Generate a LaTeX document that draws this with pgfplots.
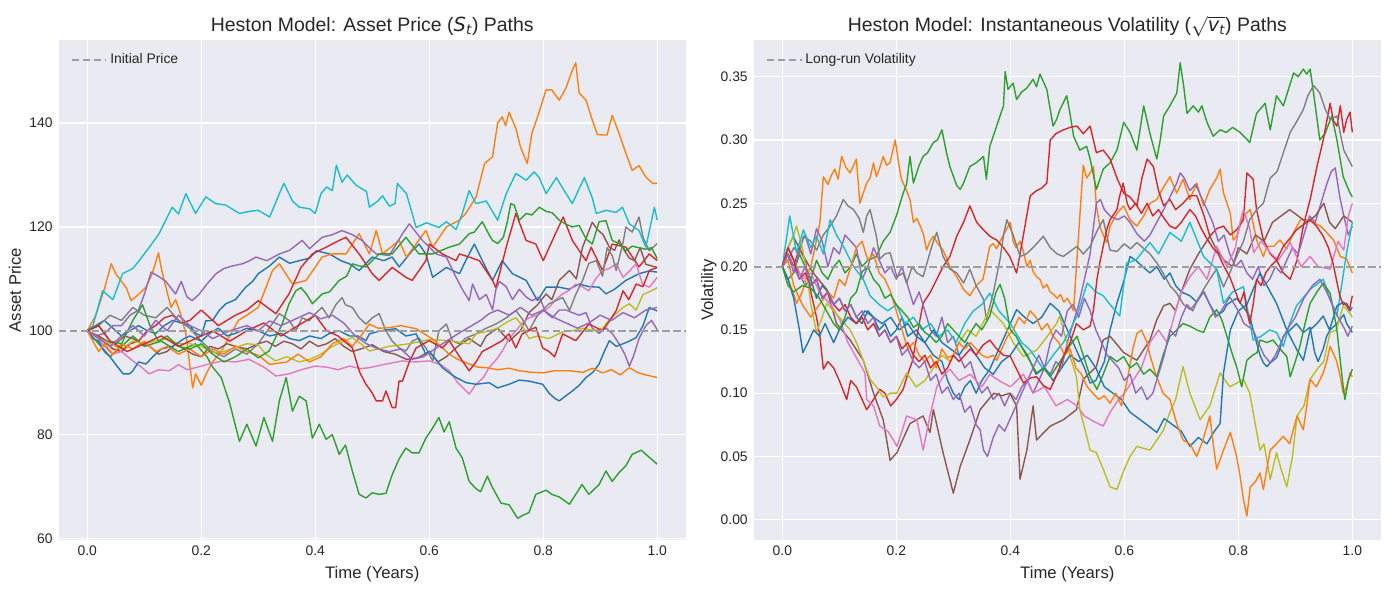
\documentclass[border=0pt]{standalone}
\usepackage{fontspec}
\setmainfont{Liberation Sans}
\newfontfamily\dejavu{DejaVu Sans}
\usepackage{pgfplots}
\pgfplotsset{compat=1.18}

\definecolor{bgc}{HTML}{EAEAF2}
\definecolor{labc}{HTML}{262626}
\definecolor{refgray}{HTML}{9E9E9F}
\definecolor{tBlue}{HTML}{1F77B4}
\definecolor{tOrange}{HTML}{FF7F0E}
\definecolor{tGreen}{HTML}{2CA02C}
\definecolor{tRed}{HTML}{D62728}
\definecolor{tPurple}{HTML}{9467BD}
\definecolor{tBrown}{HTML}{8C564B}
\definecolor{tPink}{HTML}{E377C2}
\definecolor{tGray}{HTML}{7F7F7F}
\definecolor{tOlive}{HTML}{BCBD22}
\definecolor{tCyan}{HTML}{17BECF}

\pgfplotsset{
  heston/.style={
    scale only axis, width=451.4pt, height=360pt, anchor=south west,
    xmin=-0.05, xmax=1.05,
    axis background/.style={fill=bgc},
    axis line style={draw=none},
    tick style={draw=none},
    grid=major, major grid style={white, line width=0.9pt},
    xtick={0,0.2,0.4,0.6,0.8,1.0},
    /pgf/number format/assume math mode=true,
    ticklabel style={font=\fontsize{10}{12}\selectfont, text=labc},
    yticklabel style={anchor=east, inner sep=0pt, xshift=-4.2pt},
    every axis title/.style={at={(axis description cs:0.5,1)}, anchor=base, yshift=6pt,
      font=\fontsize{14}{16}\selectfont, text=labc},
    every axis x label/.style={at={(axis description cs:0.5,-0.0761)}, anchor=base,
      font=\fontsize{12}{14}\selectfont, text=labc},
    legend style={at={(axis description cs:0.012,0.984)}, anchor=north west, draw=none,
      fill=none, font=\fontsize{10}{12}\selectfont, text=labc},
    legend image code/.code={\draw[##1] (0pt,0pt) -- (21pt,0pt); \path (0pt,0pt) -- (25pt,0pt);},
    xlabel={Time (Years)},
    xticklabel style={anchor=base, yshift=-11.2pt, /pgf/number format/.cd, fixed, fixed zerofill, precision=1},
  },
  path/.style={line width=1pt, line join=round, forget plot},
  refline/.style={color=refgray, dash pattern=on 5.5pt off 2.4pt, line width=1.5pt},
}

\begin{document}
\begin{tikzpicture}
\useasboundingbox (0,0) rectangle (1000pt,424.8pt);

% ---------------- asset price paths ----------------
\begin{axis}[heston, at={(42.3pt,36pt)},
  ymin=59.7, ymax=156, ytick={60,80,100,120,140},
  title={Heston Model: Asset Price ({\dejavu\itshape S}\textsubscript{\dejavu\itshape t}) Paths},
  every axis y label/.style={at={(axis description cs:-0.0603,0.5)}, rotate=90, anchor=base,
    font=\fontsize{12}{14}\selectfont, text=labc},
  ylabel={Asset Price}]

% blue
\addplot[path, tBlue] coordinates {(0,100)(0.015,101)(0.03,102)(0.045,100.5)(0.06,99)(0.075,100)(0.09,101)(0.105,100)(0.12,99.5)(0.135,101)(0.15,102)(0.165,101.5)(0.18,101)(0.19,99.5)(0.2,99)(0.208,101.9)(0.22,102)(0.232,104)(0.243,105.2)(0.26,106)(0.278,108.4)(0.29,109.5)(0.3,111)(0.32,112.5)(0.337,114.2)(0.355,113)(0.372,113.5)(0.39,114)(0.402,115.4)(0.425,114.8)(0.445,113.5)(0.46,112.9)(0.477,111.6)(0.5,114.2)(0.52,113.5)(0.535,114.2)(0.547,112.3)(0.57,115.4)(0.582,116.7)(0.594,114.8)(0.606,110.3)(0.63,112.2)(0.653,111)(0.664,113.5)(0.679,116.7)(0.699,112.2)(0.711,109.7)(0.728,113.5)(0.746,111)(0.77,109.7)(0.79,105.8)(0.805,108.4)(0.828,108.4)(0.845,108)(0.863,109)(0.88,108.5)(0.898,108.4)(0.91,107.1)(0.925,108)(0.945,109.7)(0.968,111)(0.985,111.5)(1.0,111.3)};
% orange
\addplot[path, tOrange] coordinates {(0,100)(0.015,103)(0.03,108)(0.042,112.9)(0.05,111)(0.06,109.5)(0.068,108.4)(0.077,105.8)(0.09,107)(0.103,108.4)(0.114,111)(0.125,115)(0.13,112)(0.138,108.4)(0.147,104.5)(0.155,106)(0.164,103.2)(0.173,99.4)(0.179,94.2)(0.185,89)(0.19,91.7)(0.2,89.5)(0.21,92)(0.22,94)(0.235,96)(0.25,99)(0.265,102)(0.28,103)(0.3,104.5)(0.325,111.6)(0.337,112.9)(0.36,109)(0.384,109.7)(0.412,114.2)(0.43,114.8)(0.454,114.8)(0.477,118.7)(0.495,114.8)(0.507,119.3)(0.518,114.8)(0.547,117.4)(0.56,114.2)(0.594,119.3)(0.606,116.1)(0.63,120)(0.653,121.3)(0.664,122.6)(0.682,125.7)(0.697,132.2)(0.711,133.5)(0.72,140)(0.728,141.2)(0.734,139.5)(0.74,142.1)(0.752,139)(0.76,135.4)(0.772,132.2)(0.78,138)(0.79,141.2)(0.805,146.4)(0.815,146.4)(0.828,144.4)(0.84,146.8)(0.851,150.2)(0.857,151.6)(0.863,145.8)(0.875,144.4)(0.886,140.6)(0.895,137.8)(0.904,137.7)(0.912,137.7)(0.921,141.5)(0.933,138)(0.945,134.2)(0.956,130.9)(0.968,131.8)(0.98,129.6)(0.992,128.4)(1.0,128.4)};
% green
\addplot[path, tGreen] coordinates {(0,100)(0.02,97.5)(0.04,95)(0.06,97)(0.08,99)(0.1,97)(0.13,98)(0.16,96)(0.19,97.5)(0.21,95)(0.22,93)(0.235,91)(0.25,86)(0.267,78.7)(0.28,82)(0.296,77.8)(0.31,83.3)(0.325,78.7)(0.337,86.5)(0.349,91)(0.36,84.5)(0.372,87.4)(0.384,86.5)(0.395,79.3)(0.407,82)(0.419,79.1)(0.43,80)(0.442,76.2)(0.453,78)(0.465,73)(0.477,68.5)(0.489,67.8)(0.5,68.8)(0.512,68.5)(0.524,68.7)(0.535,72.3)(0.547,75.3)(0.559,77.4)(0.57,76.5)(0.582,76.5)(0.594,79.3)(0.606,81.3)(0.617,83.3)(0.626,80.5)(0.635,82.5)(0.647,77.4)(0.658,75.5)(0.67,71)(0.682,69.6)(0.69,69)(0.702,72)(0.71,70)(0.726,66.8)(0.74,66.5)(0.755,63.9)(0.765,64.5)(0.775,65)(0.787,68.5)(0.805,69.3)(0.815,68.5)(0.828,68)(0.846,66.6)(0.857,68.5)(0.868,70.4)(0.88,68.5)(0.898,70.4)(0.91,73)(0.921,71)(0.933,72.7)(0.945,74)(0.956,76.2)(0.972,77)(0.98,76.2)(1.0,74.3)};
% red
\addplot[path, tRed] coordinates {(0,100)(0.015,99)(0.03,98)(0.045,96.5)(0.06,96)(0.075,97.5)(0.09,98)(0.105,100)(0.12,101)(0.135,102.5)(0.15,103)(0.165,101.5)(0.18,102)(0.2,104)(0.215,102.5)(0.23,101)(0.245,102)(0.26,103)(0.28,104)(0.3,105.8)(0.331,103.3)(0.354,107.1)(0.375,112.2)(0.395,114.8)(0.419,116.1)(0.442,117.4)(0.454,118)(0.477,114.8)(0.5,111)(0.512,109.7)(0.535,112.2)(0.559,110.3)(0.57,109.7)(0.594,113.5)(0.6,116.7)(0.623,114.8)(0.647,113.5)(0.653,114.8)(0.67,114.2)(0.688,113.5)(0.711,109.7)(0.717,108.3)(0.735,116.1)(0.752,122.6)(0.77,117.4)(0.787,116.7)(0.8,113.5)(0.816,117.4)(0.835,121.9)(0.851,117.4)(0.875,113.5)(0.884,116.1)(0.904,111.6)(0.921,116.7)(0.945,116.1)(0.968,112.3)(0.986,114.8)(1.0,113.5)};
% purple
\addplot[path, tPurple] coordinates {(0,100)(0.015,99)(0.03,99.5)(0.045,101)(0.06,101)(0.075,103)(0.09,104)(0.1,107)(0.112,111.3)(0.125,110.5)(0.138,109.5)(0.155,107.1)(0.165,109.5)(0.175,106.5)(0.184,105.8)(0.196,107)(0.21,109)(0.226,111)(0.24,112)(0.255,112.5)(0.272,112.9)(0.285,113.5)(0.296,114.2)(0.315,113.5)(0.337,114.8)(0.355,115.5)(0.377,117.4)(0.39,115.8)(0.412,118)(0.43,118.5)(0.447,119.3)(0.465,118.5)(0.482,117.4)(0.495,116)(0.507,114.8)(0.53,114.5)(0.553,118.7)(0.565,120.6)(0.588,117.4)(0.612,114.8)(0.63,114.2)(0.647,110.3)(0.658,108)(0.67,105.8)(0.676,109)(0.688,106)(0.7,107)(0.711,104)(0.717,108)(0.723,109.5)(0.735,108.5)(0.746,106)(0.758,108)(0.77,106.5)(0.78,105.8)(0.793,106.5)(0.805,103.5)(0.816,102.5)(0.828,104)(0.84,104)(0.851,103.5)(0.863,103)(0.875,103.5)(0.886,100.5)(0.898,99.5)(0.91,100.5)(0.921,99.5)(0.933,97.5)(0.943,95.5)(0.951,93.2)(0.958,95)(0.968,98.5)(0.98,101)(0.99,102)(1.0,100.2)};
% brown
\addplot[path, tBrown] coordinates {(0,100)(0.02,99)(0.035,98)(0.05,97.5)(0.065,99)(0.08,98.5)(0.095,97.5)(0.11,97)(0.125,95.5)(0.14,96)(0.155,97.5)(0.17,96.5)(0.185,95.5)(0.2,95)(0.215,97)(0.23,96.5)(0.245,97.5)(0.26,97)(0.28,96.5)(0.3,97.5)(0.315,98)(0.33,97)(0.345,98)(0.36,97.5)(0.375,96.5)(0.39,98)(0.405,97)(0.42,97.5)(0.435,98.5)(0.45,97)(0.465,96)(0.48,96.5)(0.5,97.3)(0.52,96)(0.54,95.5)(0.56,94.5)(0.58,94.8)(0.6,96)(0.615,94)(0.63,95)(0.65,97)(0.67,98.5)(0.69,97)(0.7,99)(0.72,100.5)(0.74,98)(0.76,100)(0.775,103.5)(0.79,105)(0.805,107.1)(0.815,106)(0.828,109.7)(0.846,111.6)(0.858,110)(0.869,116.1)(0.886,120.9)(0.895,119.5)(0.905,118.5)(0.916,116.1)(0.925,115.5)(0.933,117.5)(0.942,115.5)(0.951,114)(0.96,113.5)(0.97,116)(0.98,112.8)(1.0,112.2)};
% pink
\addplot[path, tPink] coordinates {(0,100)(0.015,99)(0.03,97)(0.044,95.5)(0.06,96)(0.08,94.2)(0.095,93)(0.109,91.7)(0.125,92.5)(0.144,92.3)(0.16,93.5)(0.175,92.5)(0.19,92.9)(0.21,93.5)(0.237,94.2)(0.26,94)(0.284,94.5)(0.31,93)(0.331,91.3)(0.354,91.7)(0.375,92.5)(0.4,93.2)(0.42,93)(0.44,92.5)(0.46,93.2)(0.48,92.7)(0.495,92.9)(0.52,93.5)(0.553,94.2)(0.575,94)(0.6,94.2)(0.62,93.5)(0.635,92.3)(0.65,90)(0.67,87.8)(0.682,89.7)(0.695,91)(0.705,92.9)(0.718,94.5)(0.728,96.1)(0.74,98.5)(0.752,100)(0.763,101.5)(0.775,102.5)(0.79,103)(0.81,104.5)(0.822,106)(0.834,107.1)(0.846,107.8)(0.857,109)(0.868,108.5)(0.88,107.7)(0.892,110)(0.904,111.6)(0.916,112)(0.928,112.9)(0.94,110.3)(0.951,111.5)(0.963,112.9)(0.974,109)(0.986,108.4)(1.0,110.3)};
% gray
\addplot[path, tGray] coordinates {(0,100)(0.02,101)(0.04,103)(0.06,102)(0.08,104.5)(0.1,103)(0.12,102.5)(0.14,104.5)(0.16,102)(0.18,100.5)(0.2,98)(0.22,96)(0.24,95)(0.26,96.5)(0.28,95.5)(0.3,97.5)(0.319,100.5)(0.337,103.3)(0.354,102)(0.366,100)(0.377,102.5)(0.389,101.9)(0.4,103.3)(0.412,104.5)(0.424,102.5)(0.436,105)(0.447,106.4)(0.453,105)(0.465,104.5)(0.477,102.5)(0.489,101.3)(0.5,102.5)(0.512,103.3)(0.524,100)(0.535,98)(0.547,96.7)(0.559,96.1)(0.57,98)(0.582,98.6)(0.594,96.7)(0.606,94.2)(0.617,100)(0.63,101.3)(0.641,98)(0.653,97.5)(0.664,98.6)(0.682,99.4)(0.7,100.5)(0.717,101.3)(0.735,102.5)(0.752,103.9)(0.765,102)(0.775,100)(0.79,103)(0.81,105.2)(0.834,106.4)(0.846,103.9)(0.857,107)(0.869,109.7)(0.88,113)(0.893,113.5)(0.904,110.5)(0.912,116)(0.921,114.5)(0.928,111.6)(0.94,117)(0.945,120)(0.956,119)(0.968,121.9)(0.975,118)(0.986,115.4)(1.0,116.8)};
% olive
\addplot[path, tOlive] coordinates {(0,100)(0.02,98.5)(0.04,97.5)(0.06,96.5)(0.08,98)(0.1,97.5)(0.12,98)(0.14,98.5)(0.16,97.5)(0.18,97.5)(0.2,97)(0.22,95.8)(0.24,96)(0.26,96.8)(0.28,97.5)(0.3,97.3)(0.313,95.5)(0.33,94.2)(0.35,95)(0.372,94)(0.39,94.5)(0.41,95.5)(0.43,97)(0.45,98)(0.465,98.7)(0.48,97.5)(0.495,96.1)(0.53,97)(0.565,97.5)(0.6,98.3)(0.635,98.1)(0.67,97.5)(0.682,99.4)(0.705,100)(0.72,100.5)(0.74,101.9)(0.752,102.5)(0.763,101)(0.775,98.5)(0.79,99)(0.81,98.5)(0.834,99.8)(0.85,100)(0.87,100.5)(0.89,100)(0.904,100.5)(0.915,102)(0.928,103.3)(0.94,104.5)(0.951,105.2)(0.963,104)(0.975,107)(0.986,107.5)(1.0,108.3)};
% cyan
\addplot[path, tCyan] coordinates {(0,100)(0.01,101)(0.027,107.7)(0.045,106)(0.062,111)(0.08,112)(0.091,113.5)(0.109,116.1)(0.126,118.7)(0.149,123.8)(0.16,122.5)(0.173,126.4)(0.19,122.6)(0.208,125.8)(0.225,124.5)(0.243,124.2)(0.267,122.6)(0.285,123)(0.3,123.2)(0.32,121.9)(0.337,126.4)(0.345,128.4)(0.36,125)(0.372,123.8)(0.39,123.5)(0.4,122.6)(0.41,126.4)(0.42,127.7)(0.43,127)(0.437,131.9)(0.447,128.6)(0.456,130)(0.472,128)(0.49,126.8)(0.495,123.8)(0.51,125)(0.518,126)(0.53,124)(0.54,124.5)(0.544,128.4)(0.56,126.4)(0.57,122.6)(0.577,119.9)(0.595,120.8)(0.617,119.9)(0.63,121)(0.647,119.5)(0.658,122.6)(0.67,127)(0.682,124.5)(0.7,125)(0.72,121.3)(0.735,126.4)(0.752,130.3)(0.77,129)(0.784,130.6)(0.793,129.5)(0.805,126.4)(0.823,129.5)(0.84,126.4)(0.851,124.5)(0.872,129.5)(0.886,125.6)(0.893,122.6)(0.91,123.2)(0.928,122.8)(0.939,123.8)(0.951,120.6)(0.968,119.3)(0.98,116.1)(0.995,123.8)(1.0,121.3)};
% blue (second)
\addplot[path, tBlue] coordinates {(0,100)(0.01,98.5)(0.02,98)(0.03,96)(0.04,95)(0.05,93.5)(0.063,91.7)(0.074,91.7)(0.08,92.3)(0.09,94)(0.103,93.6)(0.115,95)(0.13,96.5)(0.15,97)(0.17,98.5)(0.18,99)(0.2,98)(0.215,99.5)(0.23,100.5)(0.245,99)(0.26,99.5)(0.28,100.5)(0.3,100)(0.32,99)(0.34,99.5)(0.355,98.5)(0.372,98.1)(0.39,99)(0.41,98.5)(0.425,99.5)(0.442,100)(0.46,99)(0.475,99)(0.489,98.1)(0.495,99.4)(0.515,100)(0.541,100.4)(0.559,99)(0.577,99.4)(0.594,95.5)(0.6,96.1)(0.623,92.9)(0.63,92.3)(0.647,91)(0.665,90)(0.682,89.7)(0.705,90)(0.72,89)(0.74,89.7)(0.758,90.5)(0.775,90.3)(0.799,89.7)(0.81,88)(0.82,87)(0.828,86.5)(0.84,87.5)(0.851,88.4)(0.863,89.5)(0.875,91)(0.887,92)(0.898,93.6)(0.907,96)(0.916,98.1)(0.928,97)(0.94,97.5)(0.951,98)(0.963,98.7)(0.975,101)(0.986,104.5)(1.0,103.8)};
% orange (second)
\addplot[path, tOrange] coordinates {(0,100)(0.01,98)(0.02,96)(0.03,97.5)(0.045,95.5)(0.06,97.5)(0.08,96.5)(0.1,98)(0.12,96)(0.14,97)(0.16,95.5)(0.18,96.5)(0.2,95)(0.22,96.5)(0.24,95.5)(0.26,97)(0.28,96)(0.3,95.3)(0.32,93.5)(0.35,94)(0.37,95.5)(0.39,94)(0.41,95)(0.43,97.5)(0.45,98.5)(0.465,97)(0.48,99)(0.495,101.3)(0.51,100.5)(0.53,100.6)(0.55,101)(0.577,100.4)(0.59,99.5)(0.606,98.4)(0.62,97)(0.635,95.5)(0.65,94.5)(0.67,93.6)(0.685,93)(0.7,92.9)(0.72,92.5)(0.74,92.8)(0.758,92.3)(0.78,92)(0.8,91.9)(0.82,92.3)(0.846,92.3)(0.87,92)(0.886,92.8)(0.904,91.9)(0.92,92.5)(0.935,91.5)(0.951,92.9)(0.965,92)(0.98,91.5)(1.0,91)};
% green (second)
\addplot[path, tGreen] coordinates {(0,100)(0.02,101)(0.04,98)(0.06,97.5)(0.08,102)(0.097,105)(0.11,101)(0.125,98)(0.14,99)(0.16,97)(0.18,96.5)(0.2,97.5)(0.22,95.5)(0.24,94)(0.26,95)(0.28,96.5)(0.3,94.8)(0.319,96.1)(0.342,101.3)(0.354,105.2)(0.366,107.7)(0.375,108.3)(0.385,107)(0.395,105.2)(0.412,107.1)(0.425,107.5)(0.442,109.7)(0.455,110.5)(0.465,112.9)(0.477,112.5)(0.489,112.3)(0.512,114.8)(0.535,114.8)(0.559,118)(0.582,114.8)(0.606,114.8)(0.635,116.1)(0.653,116.7)(0.67,118.7)(0.679,119)(0.693,121)(0.705,118.5)(0.711,117.4)(0.72,116.8)(0.73,118)(0.737,121)(0.743,124.5)(0.749,124.2)(0.758,121.3)(0.77,122.6)(0.78,122.3)(0.793,123.8)(0.805,123)(0.816,122.7)(0.828,121.3)(0.84,120.5)(0.851,120)(0.863,120.3)(0.875,117.7)(0.886,116.7)(0.898,121)(0.91,121.2)(0.921,117.4)(0.933,116.8)(0.945,115.4)(0.956,116.3)(0.968,116)(0.98,115.7)(0.99,116)(1.0,113.9)};
% red (second)
\addplot[path, tRed] coordinates {(0,100)(0.02,101)(0.04,98)(0.07,96)(0.1,97.5)(0.13,99)(0.16,97)(0.19,98.5)(0.22,100)(0.25,98)(0.28,100)(0.31,101.5)(0.34,99)(0.37,101)(0.4,103)(0.42,100)(0.44,99)(0.465,96.7)(0.478,92)(0.489,89.7)(0.5,88)(0.507,86.5)(0.518,86.5)(0.524,88.4)(0.535,85.2)(0.541,85.2)(0.547,90.3)(0.553,90.3)(0.565,94)(0.577,96.7)(0.6,98.1)(0.623,96.7)(0.635,98.1)(0.658,94.2)(0.67,92.3)(0.682,94)(0.693,96)(0.71,97)(0.728,98.1)(0.74,99.4)(0.752,96.7)(0.763,99.4)(0.787,100.7)(0.799,96.7)(0.81,96)(0.82,95)(0.834,99.4)(0.857,98.1)(0.88,101.3)(0.904,100)(0.917,102)(0.928,103.9)(0.94,107.7)(0.95,106)(0.963,109)(0.975,108.5)(0.986,111.6)(1.0,112.2)};
% purple (second)
\addplot[path, tPurple] coordinates {(0,100)(0.02,98.5)(0.04,97)(0.06,99)(0.08,101)(0.1,99)(0.12,102)(0.14,100)(0.16,103)(0.18,101)(0.2,100)(0.22,98.5)(0.25,100)(0.28,101)(0.3,100)(0.32,101.9)(0.34,101)(0.37,102.5)(0.39,103.5)(0.41,102.3)(0.43,103)(0.45,101.5)(0.47,99)(0.49,97.5)(0.51,96.5)(0.53,96)(0.55,96.5)(0.57,94.5)(0.59,95)(0.61,96.5)(0.63,98)(0.65,99.4)(0.67,100.7)(0.69,102)(0.705,103.3)(0.72,104)(0.74,103)(0.76,104.5)(0.78,103)(0.8,104)(0.82,102.5)(0.84,101.5)(0.86,100.5)(0.88,101.5)(0.9,103)(0.92,102)(0.94,103.5)(0.96,102.5)(0.98,104)(1.0,104.5)};

\addplot[refline] coordinates {(-0.05,100) (1.05,100)};
\addlegendentry{Initial Price}
\end{axis}

% ---------------- volatility paths ----------------
\begin{axis}[heston, at={(542.7pt,36pt)},
  ymin=-0.016, ymax=0.379, ytick={0,0.05,0.1,0.15,0.2,0.25,0.3,0.35},
  yticklabel style={/pgf/number format/.cd, fixed, fixed zerofill, precision=2},
  title={Heston Model: Instantaneous Volatility ($\sqrt{\mbox{\dejavu\itshape v}_{\mbox{\dejavu\itshape\fontsize{9.5}{10}\selectfont t}}}$) Paths},
  every axis y label/.style={at={(axis description cs:-0.0651,0.5)}, rotate=90, anchor=base,
    font=\fontsize{12}{14}\selectfont, text=labc},
  ylabel={Volatility}]

% blue
\addplot[path, tBlue] coordinates {(0,0.2)(0.01,0.215)(0.02,0.205)(0.03,0.195)(0.04,0.185)(0.05,0.19)(0.06,0.175)(0.07,0.185)(0.08,0.18)(0.09,0.17)(0.1,0.175)(0.11,0.165)(0.12,0.17)(0.13,0.16)(0.14,0.155)(0.15,0.165)(0.16,0.16)(0.17,0.15)(0.18,0.155)(0.19,0.145)(0.2,0.15)(0.21,0.16)(0.22,0.145)(0.235,0.15)(0.25,0.14)(0.265,0.13)(0.28,0.125)(0.29,0.11)(0.3,0.1)(0.31,0.095)(0.32,0.105)(0.33,0.11)(0.34,0.1)(0.35,0.11)(0.364,0.119)(0.38,0.135)(0.395,0.15)(0.411,0.166)(0.425,0.16)(0.44,0.155)(0.455,0.16)(0.47,0.171)(0.485,0.165)(0.5,0.15)(0.515,0.135)(0.53,0.12)(0.54,0.108)(0.55,0.11)(0.565,0.125)(0.575,0.15)(0.587,0.171)(0.6,0.19)(0.61,0.208)(0.62,0.205)(0.632,0.2)(0.645,0.195)(0.657,0.2)(0.67,0.19)(0.68,0.195)(0.69,0.185)(0.7,0.18)(0.715,0.177)(0.727,0.172)(0.739,0.18)(0.75,0.17)(0.762,0.161)(0.774,0.165)(0.78,0.17)(0.797,0.175)(0.809,0.168)(0.82,0.161)(0.826,0.15)(0.832,0.14)(0.838,0.13)(0.844,0.124)(0.85,0.121)(0.856,0.124)(0.867,0.128)(0.873,0.135)(0.879,0.145)(0.891,0.15)(0.902,0.155)(0.914,0.148)(0.926,0.152)(0.934,0.132)(0.94,0.125)(0.949,0.135)(0.955,0.145)(0.961,0.15)(0.973,0.155)(0.985,0.162)(0.99,0.155)(1.0,0.148)};
% orange
\addplot[path, tOrange] coordinates {(0,0.2)(0.01,0.19)(0.02,0.178)(0.025,0.171)(0.035,0.18)(0.045,0.195)(0.05,0.2)(0.06,0.221)(0.066,0.235)(0.072,0.271)(0.08,0.265)(0.086,0.272)(0.092,0.277)(0.098,0.269)(0.104,0.287)(0.112,0.278)(0.119,0.274)(0.125,0.28)(0.13,0.285)(0.136,0.25)(0.142,0.258)(0.148,0.266)(0.154,0.27)(0.16,0.282)(0.165,0.271)(0.171,0.278)(0.177,0.287)(0.183,0.28)(0.189,0.282)(0.198,0.3)(0.204,0.282)(0.209,0.269)(0.218,0.26)(0.224,0.253)(0.23,0.235)(0.236,0.238)(0.242,0.232)(0.248,0.225)(0.253,0.213)(0.259,0.22)(0.265,0.224)(0.273,0.218)(0.282,0.213)(0.294,0.2)(0.306,0.192)(0.318,0.182)(0.329,0.177)(0.34,0.185)(0.352,0.19)(0.364,0.216)(0.37,0.218)(0.376,0.214)(0.382,0.22)(0.388,0.225)(0.394,0.23)(0.4,0.235)(0.405,0.22)(0.41,0.215)(0.417,0.22)(0.423,0.212)(0.429,0.2)(0.435,0.205)(0.44,0.196)(0.446,0.192)(0.452,0.19)(0.458,0.183)(0.464,0.186)(0.47,0.18)(0.476,0.178)(0.482,0.175)(0.488,0.178)(0.494,0.172)(0.5,0.175)(0.505,0.171)(0.511,0.165)(0.516,0.2)(0.522,0.24)(0.528,0.28)(0.534,0.27)(0.54,0.274)(0.546,0.279)(0.551,0.248)(0.557,0.232)(0.563,0.225)(0.569,0.219)(0.575,0.232)(0.587,0.242)(0.599,0.248)(0.61,0.237)(0.622,0.232)(0.634,0.24)(0.645,0.25)(0.657,0.253)(0.669,0.263)(0.68,0.271)(0.692,0.258)(0.703,0.269)(0.715,0.253)(0.727,0.266)(0.739,0.248)(0.75,0.261)(0.762,0.27)(0.768,0.277)(0.774,0.258)(0.786,0.242)(0.791,0.221)(0.797,0.224)(0.809,0.24)(0.821,0.245)(0.832,0.221)(0.844,0.208)(0.85,0.216)(0.862,0.216)(0.873,0.221)(0.885,0.214)(0.897,0.227)(0.909,0.237)(0.92,0.237)(0.932,0.235)(0.944,0.232)(0.955,0.227)(0.967,0.221)(0.979,0.208)(0.99,0.206)(1.0,0.195)};
% green
\addplot[path, tGreen] coordinates {(0,0.2)(0.01,0.19)(0.02,0.195)(0.03,0.21)(0.04,0.2)(0.05,0.19)(0.06,0.205)(0.07,0.195)(0.08,0.19)(0.09,0.2)(0.1,0.205)(0.11,0.195)(0.12,0.2)(0.13,0.21)(0.14,0.2)(0.15,0.205)(0.165,0.208)(0.177,0.22)(0.189,0.227)(0.2,0.24)(0.212,0.258)(0.218,0.265)(0.224,0.287)(0.23,0.266)(0.24,0.28)(0.247,0.287)(0.255,0.29)(0.265,0.298)(0.272,0.3)(0.28,0.308)(0.288,0.29)(0.294,0.279)(0.306,0.264)(0.312,0.261)(0.318,0.266)(0.329,0.279)(0.34,0.282)(0.353,0.287)(0.358,0.269)(0.364,0.295)(0.376,0.311)(0.388,0.327)(0.391,0.354)(0.396,0.34)(0.405,0.345)(0.411,0.332)(0.42,0.338)(0.429,0.341)(0.44,0.348)(0.446,0.342)(0.452,0.352)(0.464,0.34)(0.475,0.311)(0.481,0.316)(0.487,0.324)(0.499,0.335)(0.505,0.32)(0.511,0.303)(0.522,0.292)(0.534,0.295)(0.54,0.285)(0.551,0.261)(0.563,0.277)(0.575,0.282)(0.587,0.292)(0.599,0.314)(0.61,0.306)(0.622,0.292)(0.634,0.327)(0.645,0.305)(0.657,0.285)(0.663,0.3)(0.669,0.319)(0.68,0.327)(0.692,0.337)(0.698,0.361)(0.704,0.343)(0.71,0.321)(0.721,0.327)(0.73,0.322)(0.736,0.327)(0.745,0.314)(0.756,0.303)(0.768,0.308)(0.779,0.306)(0.79,0.31)(0.803,0.306)(0.812,0.302)(0.82,0.298)(0.832,0.321)(0.847,0.329)(0.856,0.308)(0.867,0.335)(0.879,0.327)(0.888,0.34)(0.897,0.353)(0.905,0.35)(0.914,0.356)(0.92,0.352)(0.926,0.356)(0.932,0.337)(0.943,0.3)(0.952,0.305)(0.964,0.319)(0.973,0.3)(0.984,0.271)(0.996,0.258)(1.0,0.255)};
% red
\addplot[path, tRed] coordinates {(0,0.2)(0.01,0.21)(0.02,0.2)(0.03,0.215)(0.04,0.205)(0.05,0.18)(0.06,0.16)(0.066,0.145)(0.072,0.119)(0.08,0.125)(0.09,0.12)(0.1,0.11)(0.113,0.095)(0.12,0.11)(0.13,0.105)(0.14,0.095)(0.148,0.087)(0.16,0.095)(0.171,0.103)(0.18,0.1)(0.19,0.09)(0.2,0.095)(0.212,0.103)(0.22,0.115)(0.228,0.125)(0.236,0.145)(0.247,0.171)(0.26,0.18)(0.271,0.19)(0.282,0.2)(0.294,0.208)(0.306,0.224)(0.318,0.235)(0.329,0.248)(0.341,0.235)(0.353,0.229)(0.364,0.224)(0.376,0.221)(0.388,0.215)(0.399,0.208)(0.411,0.195)(0.423,0.225)(0.435,0.256)(0.446,0.26)(0.455,0.262)(0.464,0.266)(0.47,0.3)(0.48,0.305)(0.493,0.308)(0.505,0.31)(0.517,0.311)(0.528,0.305)(0.54,0.311)(0.551,0.29)(0.563,0.292)(0.575,0.285)(0.587,0.27)(0.599,0.258)(0.61,0.255)(0.622,0.248)(0.631,0.27)(0.64,0.285)(0.651,0.279)(0.66,0.26)(0.669,0.248)(0.68,0.253)(0.69,0.245)(0.703,0.25)(0.715,0.256)(0.727,0.256)(0.74,0.24)(0.75,0.224)(0.762,0.23)(0.774,0.232)(0.786,0.225)(0.797,0.229)(0.809,0.237)(0.815,0.274)(0.826,0.269)(0.832,0.245)(0.844,0.221)(0.856,0.21)(0.867,0.205)(0.879,0.195)(0.891,0.19)(0.903,0.205)(0.914,0.232)(0.926,0.253)(0.938,0.279)(0.949,0.3)(0.961,0.329)(0.967,0.315)(0.973,0.311)(0.979,0.327)(0.985,0.306)(0.99,0.316)(0.996,0.322)(1.0,0.306)};
% purple
\addplot[path, tPurple] coordinates {(0,0.2)(0.01,0.21)(0.02,0.195)(0.03,0.215)(0.04,0.225)(0.05,0.21)(0.06,0.23)(0.07,0.22)(0.08,0.2)(0.09,0.215)(0.1,0.21)(0.11,0.225)(0.12,0.22)(0.13,0.215)(0.14,0.19)(0.15,0.2)(0.16,0.215)(0.17,0.205)(0.18,0.195)(0.19,0.2)(0.2,0.19)(0.21,0.2)(0.22,0.185)(0.23,0.17)(0.24,0.18)(0.25,0.165)(0.26,0.15)(0.27,0.145)(0.28,0.16)(0.29,0.14)(0.3,0.145)(0.31,0.13)(0.32,0.12)(0.33,0.125)(0.34,0.11)(0.35,0.1)(0.36,0.105)(0.37,0.095)(0.38,0.1)(0.39,0.09)(0.4,0.1)(0.41,0.095)(0.42,0.105)(0.43,0.11)(0.44,0.1)(0.45,0.11)(0.46,0.12)(0.47,0.115)(0.48,0.125)(0.49,0.12)(0.5,0.14)(0.51,0.155)(0.52,0.17)(0.53,0.19)(0.54,0.21)(0.551,0.25)(0.558,0.253)(0.565,0.245)(0.575,0.24)(0.588,0.237)(0.6,0.24)(0.61,0.235)(0.622,0.226)(0.635,0.22)(0.645,0.225)(0.657,0.235)(0.669,0.245)(0.68,0.255)(0.692,0.266)(0.698,0.274)(0.705,0.27)(0.715,0.26)(0.725,0.265)(0.735,0.255)(0.745,0.245)(0.755,0.235)(0.765,0.22)(0.775,0.225)(0.785,0.21)(0.795,0.2)(0.805,0.205)(0.815,0.195)(0.825,0.19)(0.835,0.2)(0.845,0.185)(0.855,0.19)(0.865,0.2)(0.875,0.195)(0.885,0.205)(0.895,0.215)(0.905,0.21)(0.915,0.225)(0.925,0.24)(0.935,0.235)(0.945,0.25)(0.955,0.265)(0.963,0.275)(0.97,0.278)(0.978,0.255)(0.985,0.24)(0.993,0.225)(1.0,0.232)};
% brown
\addplot[path, tBrown] coordinates {(0,0.2)(0.01,0.215)(0.019,0.224)(0.035,0.21)(0.054,0.195)(0.078,0.182)(0.095,0.155)(0.119,0.142)(0.142,0.126)(0.16,0.1)(0.177,0.079)(0.189,0.047)(0.201,0.053)(0.224,0.076)(0.247,0.082)(0.259,0.069)(0.265,0.087)(0.282,0.053)(0.3,0.021)(0.312,0.042)(0.329,0.063)(0.347,0.087)(0.371,0.1)(0.385,0.098)(0.399,0.1)(0.411,0.09)(0.417,0.032)(0.429,0.055)(0.44,0.09)(0.446,0.063)(0.47,0.074)(0.493,0.079)(0.516,0.087)(0.528,0.111)(0.551,0.121)(0.563,0.142)(0.575,0.145)(0.599,0.132)(0.622,0.126)(0.645,0.142)(0.657,0.158)(0.669,0.169)(0.68,0.171)(0.69,0.165)(0.7,0.18)(0.715,0.198)(0.73,0.21)(0.75,0.224)(0.76,0.215)(0.775,0.205)(0.79,0.2)(0.8,0.215)(0.815,0.21)(0.83,0.225)(0.845,0.22)(0.86,0.235)(0.875,0.24)(0.89,0.245)(0.905,0.24)(0.92,0.235)(0.935,0.24)(0.95,0.25)(0.96,0.235)(0.97,0.23)(0.985,0.24)(1.0,0.235)};
% pink
\addplot[path, tPink] coordinates {(0,0.2)(0.01,0.215)(0.02,0.205)(0.035,0.19)(0.05,0.195)(0.066,0.179)(0.085,0.17)(0.101,0.158)(0.115,0.14)(0.125,0.132)(0.145,0.116)(0.148,0.095)(0.16,0.09)(0.171,0.074)(0.185,0.07)(0.195,0.063)(0.201,0.058)(0.21,0.07)(0.218,0.082)(0.236,0.079)(0.247,0.055)(0.259,0.082)(0.271,0.105)(0.285,0.115)(0.294,0.119)(0.31,0.11)(0.33,0.115)(0.35,0.105)(0.364,0.115)(0.38,0.11)(0.4,0.105)(0.423,0.115)(0.44,0.1)(0.46,0.105)(0.48,0.09)(0.5,0.095)(0.517,0.09)(0.53,0.082)(0.545,0.078)(0.563,0.074)(0.575,0.085)(0.59,0.095)(0.6,0.1)(0.615,0.11)(0.63,0.12)(0.645,0.14)(0.66,0.15)(0.675,0.14)(0.69,0.165)(0.7,0.18)(0.715,0.192)(0.73,0.2)(0.745,0.19)(0.762,0.216)(0.78,0.2)(0.795,0.215)(0.803,0.235)(0.809,0.245)(0.82,0.23)(0.827,0.211)(0.84,0.22)(0.856,0.211)(0.87,0.205)(0.891,0.219)(0.91,0.2)(0.926,0.208)(0.94,0.2)(0.961,0.198)(0.975,0.22)(0.985,0.213)(0.993,0.24)(1.0,0.25)};
% gray
\addplot[path, tGray] coordinates {(0,0.2)(0.01,0.205)(0.02,0.215)(0.03,0.21)(0.037,0.224)(0.05,0.22)(0.06,0.213)(0.072,0.225)(0.084,0.232)(0.095,0.24)(0.107,0.253)(0.115,0.248)(0.125,0.245)(0.135,0.238)(0.142,0.227)(0.148,0.24)(0.154,0.245)(0.165,0.224)(0.171,0.206)(0.18,0.21)(0.189,0.211)(0.201,0.192)(0.212,0.195)(0.218,0.187)(0.228,0.2)(0.236,0.195)(0.247,0.192)(0.259,0.211)(0.265,0.22)(0.271,0.227)(0.282,0.208)(0.294,0.198)(0.306,0.195)(0.318,0.187)(0.329,0.198)(0.34,0.185)(0.353,0.174)(0.358,0.158)(0.37,0.179)(0.382,0.206)(0.388,0.225)(0.394,0.237)(0.405,0.225)(0.417,0.208)(0.428,0.21)(0.44,0.215)(0.458,0.224)(0.47,0.215)(0.482,0.21)(0.493,0.208)(0.505,0.212)(0.517,0.216)(0.528,0.21)(0.54,0.216)(0.552,0.228)(0.563,0.237)(0.575,0.213)(0.587,0.212)(0.6,0.218)(0.611,0.214)(0.622,0.219)(0.635,0.214)(0.645,0.21)(0.657,0.203)(0.668,0.195)(0.68,0.185)(0.692,0.179)(0.704,0.17)(0.716,0.166)(0.727,0.172)(0.739,0.182)(0.75,0.19)(0.762,0.198)(0.774,0.184)(0.785,0.195)(0.797,0.208)(0.809,0.22)(0.82,0.237)(0.832,0.245)(0.844,0.25)(0.856,0.27)(0.868,0.275)(0.879,0.29)(0.891,0.306)(0.903,0.315)(0.914,0.324)(0.922,0.335)(0.932,0.343)(0.938,0.34)(0.943,0.337)(0.952,0.325)(0.961,0.316)(0.973,0.319)(0.979,0.305)(0.985,0.292)(0.993,0.285)(1.0,0.279)};
% olive
\addplot[path, tOlive] coordinates {(0,0.2)(0.01,0.215)(0.02,0.225)(0.025,0.232)(0.035,0.215)(0.043,0.195)(0.05,0.17)(0.06,0.148)(0.07,0.16)(0.078,0.171)(0.09,0.165)(0.1,0.16)(0.119,0.15)(0.13,0.14)(0.142,0.126)(0.154,0.111)(0.165,0.105)(0.177,0.097)(0.19,0.1)(0.201,0.1)(0.218,0.116)(0.235,0.105)(0.25,0.11)(0.265,0.12)(0.28,0.13)(0.295,0.125)(0.31,0.14)(0.325,0.15)(0.34,0.145)(0.364,0.166)(0.388,0.155)(0.405,0.14)(0.423,0.129)(0.446,0.134)(0.465,0.145)(0.481,0.155)(0.487,0.161)(0.505,0.129)(0.516,0.113)(0.522,0.087)(0.534,0.066)(0.54,0.055)(0.551,0.053)(0.563,0.04)(0.575,0.026)(0.587,0.024)(0.6,0.04)(0.61,0.05)(0.622,0.058)(0.645,0.055)(0.669,0.071)(0.68,0.085)(0.69,0.095)(0.703,0.121)(0.715,0.1)(0.733,0.079)(0.75,0.09)(0.768,0.116)(0.785,0.105)(0.809,0.111)(0.82,0.1)(0.838,0.055)(0.845,0.06)(0.856,0.032)(0.867,0.053)(0.875,0.04)(0.885,0.026)(0.895,0.05)(0.903,0.082)(0.915,0.09)(0.926,0.111)(0.94,0.12)(0.95,0.125)(0.961,0.148)(0.972,0.15)(0.984,0.169)(0.996,0.163)(1.0,0.16)};
% cyan
\addplot[path, tCyan] coordinates {(0,0.2)(0.013,0.24)(0.025,0.211)(0.037,0.229)(0.05,0.215)(0.06,0.224)(0.072,0.21)(0.084,0.237)(0.095,0.225)(0.107,0.216)(0.125,0.2)(0.142,0.19)(0.154,0.177)(0.17,0.17)(0.185,0.165)(0.2,0.17)(0.215,0.155)(0.23,0.16)(0.245,0.15)(0.26,0.155)(0.275,0.145)(0.29,0.15)(0.305,0.14)(0.32,0.155)(0.335,0.165)(0.35,0.17)(0.364,0.179)(0.38,0.165)(0.4,0.155)(0.42,0.14)(0.435,0.134)(0.458,0.119)(0.475,0.13)(0.493,0.14)(0.505,0.15)(0.517,0.161)(0.535,0.187)(0.55,0.18)(0.563,0.177)(0.575,0.17)(0.592,0.161)(0.604,0.203)(0.62,0.205)(0.645,0.219)(0.66,0.21)(0.68,0.227)(0.7,0.22)(0.715,0.235)(0.739,0.208)(0.75,0.203)(0.762,0.198)(0.774,0.171)(0.79,0.18)(0.809,0.184)(0.826,0.142)(0.84,0.145)(0.855,0.15)(0.867,0.148)(0.879,0.137)(0.89,0.155)(0.902,0.169)(0.926,0.182)(0.949,0.19)(0.96,0.175)(0.973,0.161)(0.99,0.211)(1.0,0.235)};
% blue (second)
\addplot[path, tBlue] coordinates {(0,0.2)(0.01,0.19)(0.02,0.175)(0.03,0.15)(0.036,0.132)(0.045,0.14)(0.055,0.15)(0.065,0.145)(0.075,0.155)(0.09,0.14)(0.1,0.15)(0.115,0.16)(0.13,0.155)(0.145,0.165)(0.16,0.16)(0.175,0.155)(0.19,0.16)(0.205,0.15)(0.22,0.155)(0.235,0.145)(0.25,0.14)(0.265,0.15)(0.28,0.14)(0.295,0.135)(0.31,0.13)(0.325,0.14)(0.34,0.13)(0.355,0.12)(0.37,0.115)(0.385,0.125)(0.4,0.13)(0.415,0.14)(0.43,0.13)(0.445,0.115)(0.46,0.12)(0.475,0.11)(0.49,0.12)(0.505,0.13)(0.52,0.125)(0.535,0.13)(0.55,0.12)(0.565,0.105)(0.58,0.1)(0.595,0.095)(0.61,0.085)(0.625,0.08)(0.64,0.075)(0.657,0.069)(0.67,0.08)(0.685,0.075)(0.7,0.07)(0.715,0.058)(0.73,0.065)(0.745,0.06)(0.758,0.07)(0.768,0.076)(0.774,0.116)(0.786,0.15)(0.8,0.165)(0.815,0.17)(0.838,0.195)(0.85,0.185)(0.867,0.171)(0.885,0.15)(0.903,0.134)(0.914,0.126)(0.926,0.15)(0.938,0.155)(0.949,0.161)(0.96,0.15)(0.973,0.169)(0.985,0.172)(0.996,0.165)(1.0,0.168)};
% orange (second)
\addplot[path, tOrange] coordinates {(0,0.2)(0.01,0.205)(0.02,0.185)(0.035,0.17)(0.05,0.16)(0.065,0.17)(0.08,0.18)(0.09,0.175)(0.1,0.19)(0.11,0.185)(0.12,0.2)(0.13,0.215)(0.14,0.22)(0.15,0.205)(0.16,0.21)(0.17,0.195)(0.18,0.19)(0.19,0.18)(0.2,0.165)(0.21,0.15)(0.22,0.135)(0.23,0.14)(0.24,0.13)(0.25,0.125)(0.26,0.13)(0.27,0.12)(0.28,0.135)(0.29,0.128)(0.3,0.13)(0.31,0.14)(0.32,0.135)(0.33,0.14)(0.34,0.135)(0.35,0.13)(0.36,0.128)(0.37,0.13)(0.376,0.126)(0.385,0.135)(0.395,0.145)(0.405,0.15)(0.415,0.16)(0.425,0.155)(0.435,0.165)(0.445,0.16)(0.455,0.15)(0.465,0.155)(0.475,0.145)(0.485,0.14)(0.495,0.13)(0.505,0.135)(0.515,0.12)(0.525,0.115)(0.535,0.105)(0.545,0.1)(0.555,0.095)(0.565,0.098)(0.575,0.092)(0.585,0.1)(0.595,0.09)(0.605,0.11)(0.615,0.135)(0.622,0.147)(0.63,0.15)(0.64,0.14)(0.645,0.13)(0.655,0.115)(0.668,0.1)(0.68,0.095)(0.692,0.076)(0.703,0.063)(0.715,0.06)(0.727,0.05)(0.738,0.063)(0.75,0.082)(0.756,0.06)(0.762,0.04)(0.774,0.055)(0.786,0.069)(0.797,0.05)(0.803,0.035)(0.809,0.016)(0.815,0.003)(0.821,0.026)(0.83,0.03)(0.838,0.037)(0.844,0.024)(0.85,0.04)(0.856,0.055)(0.867,0.06)(0.879,0.066)(0.89,0.06)(0.903,0.082)(0.914,0.071)(0.92,0.09)(0.926,0.111)(0.937,0.105)(0.949,0.116)(0.955,0.125)(0.961,0.137)(0.972,0.126)(0.978,0.115)(0.984,0.1)(0.99,0.105)(0.996,0.116)(1.0,0.113)};
% green (second)
\addplot[path, tGreen] coordinates {(0,0.2)(0.01,0.185)(0.02,0.18)(0.035,0.185)(0.05,0.183)(0.065,0.175)(0.08,0.163)(0.09,0.155)(0.1,0.15)(0.11,0.16)(0.12,0.175)(0.13,0.18)(0.14,0.196)(0.15,0.2)(0.16,0.19)(0.17,0.185)(0.18,0.175)(0.19,0.178)(0.2,0.17)(0.21,0.165)(0.22,0.16)(0.23,0.152)(0.24,0.155)(0.25,0.148)(0.26,0.145)(0.27,0.14)(0.28,0.145)(0.29,0.155)(0.3,0.15)(0.31,0.145)(0.32,0.14)(0.33,0.148)(0.34,0.155)(0.35,0.15)(0.364,0.161)(0.375,0.18)(0.382,0.186)(0.39,0.175)(0.4,0.15)(0.41,0.145)(0.423,0.134)(0.435,0.125)(0.446,0.116)(0.458,0.12)(0.47,0.113)(0.48,0.12)(0.493,0.129)(0.505,0.138)(0.517,0.145)(0.528,0.13)(0.54,0.113)(0.552,0.103)(0.563,0.115)(0.575,0.129)(0.587,0.125)(0.599,0.129)(0.61,0.12)(0.622,0.124)(0.634,0.115)(0.645,0.119)(0.657,0.113)(0.668,0.13)(0.68,0.145)(0.692,0.15)(0.703,0.155)(0.715,0.153)(0.727,0.15)(0.739,0.148)(0.75,0.16)(0.762,0.166)(0.771,0.158)(0.78,0.145)(0.79,0.13)(0.797,0.121)(0.806,0.105)(0.815,0.126)(0.825,0.13)(0.833,0.132)(0.838,0.142)(0.85,0.14)(0.861,0.142)(0.873,0.135)(0.885,0.129)(0.891,0.113)(0.9,0.125)(0.908,0.137)(0.917,0.155)(0.926,0.171)(0.938,0.18)(0.949,0.187)(0.961,0.179)(0.967,0.165)(0.973,0.15)(0.979,0.125)(0.984,0.105)(0.987,0.095)(0.993,0.11)(1.0,0.119)};
% red (second)
\addplot[path, tRed] coordinates {(0,0.2)(0.01,0.215)(0.02,0.205)(0.03,0.19)(0.04,0.195)(0.05,0.185)(0.06,0.19)(0.07,0.175)(0.08,0.18)(0.09,0.17)(0.1,0.165)(0.11,0.17)(0.12,0.16)(0.13,0.155)(0.14,0.16)(0.15,0.15)(0.16,0.155)(0.17,0.145)(0.18,0.15)(0.19,0.14)(0.2,0.145)(0.21,0.135)(0.22,0.14)(0.23,0.13)(0.24,0.125)(0.25,0.13)(0.26,0.12)(0.27,0.125)(0.28,0.115)(0.29,0.12)(0.3,0.13)(0.31,0.125)(0.32,0.13)(0.33,0.135)(0.34,0.13)(0.352,0.138)(0.364,0.142)(0.376,0.135)(0.388,0.13)(0.4,0.129)(0.41,0.12)(0.423,0.108)(0.435,0.112)(0.446,0.113)(0.458,0.106)(0.47,0.103)(0.482,0.115)(0.493,0.129)(0.505,0.14)(0.516,0.155)(0.528,0.15)(0.54,0.153)(0.546,0.166)(0.552,0.19)(0.557,0.203)(0.563,0.216)(0.569,0.229)(0.575,0.237)(0.587,0.245)(0.592,0.256)(0.598,0.266)(0.605,0.25)(0.61,0.245)(0.62,0.25)(0.63,0.242)(0.64,0.25)(0.65,0.24)(0.66,0.245)(0.67,0.238)(0.68,0.232)(0.69,0.23)(0.7,0.235)(0.715,0.245)(0.725,0.24)(0.735,0.23)(0.745,0.222)(0.755,0.215)(0.765,0.21)(0.775,0.2)(0.785,0.192)(0.795,0.18)(0.803,0.171)(0.81,0.18)(0.815,0.165)(0.82,0.155)(0.826,0.17)(0.832,0.19)(0.84,0.185)(0.848,0.195)(0.856,0.2)(0.867,0.205)(0.879,0.216)(0.89,0.222)(0.902,0.229)(0.914,0.233)(0.926,0.237)(0.937,0.232)(0.949,0.224)(0.958,0.215)(0.966,0.203)(0.972,0.19)(0.978,0.177)(0.984,0.17)(0.99,0.171)(0.995,0.166)(1.0,0.177)};
% purple (second)
\addplot[path, tPurple] coordinates {(0,0.2)(0.01,0.21)(0.02,0.2)(0.03,0.19)(0.04,0.2)(0.05,0.185)(0.06,0.19)(0.07,0.175)(0.08,0.18)(0.09,0.17)(0.1,0.175)(0.11,0.165)(0.12,0.17)(0.13,0.16)(0.14,0.165)(0.15,0.155)(0.16,0.16)(0.17,0.145)(0.18,0.15)(0.19,0.14)(0.2,0.145)(0.21,0.13)(0.22,0.135)(0.23,0.125)(0.24,0.12)(0.25,0.125)(0.26,0.11)(0.27,0.115)(0.28,0.1)(0.29,0.105)(0.3,0.095)(0.31,0.1)(0.32,0.085)(0.33,0.09)(0.34,0.075)(0.347,0.071)(0.353,0.055)(0.36,0.05)(0.37,0.065)(0.38,0.075)(0.39,0.07)(0.4,0.08)(0.41,0.09)(0.42,0.1)(0.43,0.11)(0.44,0.12)(0.45,0.13)(0.46,0.12)(0.47,0.14)(0.48,0.15)(0.49,0.145)(0.5,0.165)(0.51,0.17)(0.52,0.16)(0.53,0.175)(0.54,0.165)(0.55,0.15)(0.56,0.14)(0.57,0.13)(0.58,0.125)(0.59,0.12)(0.6,0.11)(0.61,0.115)(0.62,0.1)(0.63,0.105)(0.64,0.095)(0.65,0.1)(0.66,0.115)(0.67,0.13)(0.68,0.15)(0.69,0.145)(0.7,0.16)(0.71,0.17)(0.72,0.165)(0.73,0.175)(0.74,0.18)(0.75,0.17)(0.76,0.16)(0.77,0.165)(0.785,0.176)(0.8,0.165)(0.81,0.155)(0.826,0.15)(0.835,0.14)(0.845,0.13)(0.856,0.124)(0.865,0.13)(0.875,0.14)(0.885,0.15)(0.9,0.16)(0.915,0.175)(0.93,0.185)(0.943,0.19)(0.955,0.18)(0.965,0.17)(0.975,0.16)(0.985,0.152)(0.992,0.145)(1.0,0.153)};

\addplot[refline] coordinates {(-0.05,0.2) (1.05,0.2)};
\addlegendentry{Long-run Volatility}
\end{axis}
\end{tikzpicture}
\end{document}
